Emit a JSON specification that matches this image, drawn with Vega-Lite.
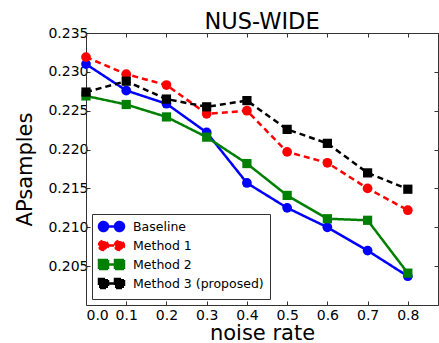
{
  "$schema": "https://vega.github.io/schema/vega-lite/v6.json",
  "autosize": "none",
  "width": 352,
  "height": 272,
  "padding": {"left": 86, "top": 33, "right": 1, "bottom": 38},
  "background": "white",
  "config": {
    "font": "DejaVu Sans",
    "view": {"stroke": null},
    "axis": {"grid": false, "domainColor": "#333", "tickColor": "#333", "labelColor": "#000", "titleColor": "#000", "labelFont": "DejaVu Sans", "titleFont": "DejaVu Sans", "labelFontSize": 14, "titleFontSize": 21, "titleFontWeight": "normal", "tickSize": -4},
    "legend": {"labelFont": "DejaVu Sans", "labelFontSize": 12.5, "labelColor": "#000"}
  },
  "title": {"text": "NUS-WIDE", "fontSize": 22.5, "font": "DejaVu Sans", "fontWeight": "normal", "offset": -7, "color": "#000"},
  "data": {"values": [
    {"x": 0.0, "v": 0.2310, "s": "Baseline", "m": "circle"},
    {"x": 0.1, "v": 0.2276, "s": "Baseline", "m": "circle"},
    {"x": 0.2, "v": 0.2259, "s": "Baseline", "m": "circle"},
    {"x": 0.3, "v": 0.2222, "s": "Baseline", "m": "circle"},
    {"x": 0.4, "v": 0.2157, "s": "Baseline", "m": "circle"},
    {"x": 0.5, "v": 0.2125, "s": "Baseline", "m": "circle"},
    {"x": 0.6, "v": 0.2100, "s": "Baseline", "m": "circle"},
    {"x": 0.7, "v": 0.2070, "s": "Baseline", "m": "circle"},
    {"x": 0.8, "v": 0.2037, "s": "Baseline", "m": "circle"},
    {"x": 0.0, "v": 0.2319, "s": "Method 1", "m": "circle"},
    {"x": 0.1, "v": 0.2297, "s": "Method 1", "m": "circle"},
    {"x": 0.2, "v": 0.2283, "s": "Method 1", "m": "circle"},
    {"x": 0.3, "v": 0.2246, "s": "Method 1", "m": "circle"},
    {"x": 0.4, "v": 0.2250, "s": "Method 1", "m": "circle"},
    {"x": 0.5, "v": 0.2197, "s": "Method 1", "m": "circle"},
    {"x": 0.6, "v": 0.2183, "s": "Method 1", "m": "circle"},
    {"x": 0.7, "v": 0.2150, "s": "Method 1", "m": "circle"},
    {"x": 0.8, "v": 0.2122, "s": "Method 1", "m": "circle"},
    {"x": 0.0, "v": 0.2269, "s": "Method 2", "m": "square"},
    {"x": 0.1, "v": 0.2258, "s": "Method 2", "m": "square"},
    {"x": 0.2, "v": 0.2242, "s": "Method 2", "m": "square"},
    {"x": 0.3, "v": 0.2216, "s": "Method 2", "m": "square"},
    {"x": 0.4, "v": 0.2182, "s": "Method 2", "m": "square"},
    {"x": 0.5, "v": 0.2141, "s": "Method 2", "m": "square"},
    {"x": 0.6, "v": 0.2111, "s": "Method 2", "m": "square"},
    {"x": 0.7, "v": 0.2109, "s": "Method 2", "m": "square"},
    {"x": 0.8, "v": 0.2041, "s": "Method 2", "m": "square"},
    {"x": 0.0, "v": 0.2274, "s": "Method 3 (proposed)", "m": "square"},
    {"x": 0.1, "v": 0.2288, "s": "Method 3 (proposed)", "m": "square"},
    {"x": 0.2, "v": 0.2265, "s": "Method 3 (proposed)", "m": "square"},
    {"x": 0.3, "v": 0.2255, "s": "Method 3 (proposed)", "m": "square"},
    {"x": 0.4, "v": 0.2263, "s": "Method 3 (proposed)", "m": "square"},
    {"x": 0.5, "v": 0.2226, "s": "Method 3 (proposed)", "m": "square"},
    {"x": 0.6, "v": 0.2208, "s": "Method 3 (proposed)", "m": "square"},
    {"x": 0.7, "v": 0.2170, "s": "Method 3 (proposed)", "m": "square"},
    {"x": 0.8, "v": 0.2149, "s": "Method 3 (proposed)", "m": "square"}
  ]},
  "layer": [
    {
      "mark": {"type": "line", "strokeWidth": 2.5},
      "encoding": {
        "x": {"field": "x", "type": "quantitative", "title": "noise rate", "scale": {"domain": [0, 0.875], "nice": false, "zero": false}, "axis": {"values": [0, 0.1, 0.2, 0.3, 0.4, 0.5, 0.6, 0.7, 0.8], "format": ".1f", "labelPadding": 7, "titlePadding": 0}},
        "y": {"field": "v", "type": "quantitative", "title": "APsamples", "scale": {"domain": [0.2, 0.235], "nice": false, "zero": false}, "axis": {"values": [0.205, 0.21, 0.215, 0.22, 0.225, 0.23, 0.235], "format": ".3f", "labelPadding": 2, "titlePadding": 12}},
        "color": {"field": "s", "type": "nominal", "title": null, "scale": {"domain": ["Baseline", "Method 1", "Method 2", "Method 3 (proposed)"], "range": ["#0000ff", "#ff0000", "#008000", "#000000"]}, "legend": {"orient": "bottom-left", "offset": 6, "strokeColor": "#333", "fillColor": "white", "padding": 6, "symbolSize": 100, "symbolOffset": 7, "symbolStrokeWidth": 2.5, "rowPadding": 0, "labelOffset": 15, "encode": {"symbols": {"update": {"fill": {"scale": "color", "field": "value"}, "shape": {"signal": "datum.value == 'Method 2' || datum.value == 'Method 3 (proposed)' ? 'M-2.5,-0.9 h1.8 v1.8 h-1.8 Z M-0.7,0 L0.7,0 M0.7,-0.9 h1.8 v1.8 h-1.8 Z' : 'M-2.5,0 A0.9,0.9 0 1,1 -0.7,0 A0.9,0.9 0 1,1 -2.5,0 Z M-0.7,0 L0.7,0 M0.7,0 A0.9,0.9 0 1,1 2.5,0 A0.9,0.9 0 1,1 0.7,0 Z'"}}}}}},
        "strokeDash": {"field": "s", "type": "nominal", "title": null, "scale": {"domain": ["Baseline", "Method 1", "Method 2", "Method 3 (proposed)"], "range": [[1, 0], [6, 4], [1, 0], [6, 4]]}}
      }
    },
    {
      "transform": [{"filter": "datum.m == 'circle'"}],
      "mark": {"type": "point", "shape": "circle", "filled": true, "size": 95, "opacity": 1},
      "encoding": {
        "x": {"field": "x", "type": "quantitative", "axis": null},
        "y": {"field": "v", "type": "quantitative", "axis": null},
        "color": {"field": "s", "type": "nominal", "title": null}
      }
    },
    {
      "transform": [{"filter": "datum.m == 'square'"}],
      "mark": {"type": "point", "shape": "square", "filled": true, "size": 85, "opacity": 1},
      "encoding": {
        "x": {"field": "x", "type": "quantitative", "axis": null},
        "y": {"field": "v", "type": "quantitative", "axis": null},
        "color": {"field": "s", "type": "nominal", "title": null}
      }
    },
    {
      "mark": {"type": "point", "opacity": 0},
      "encoding": {
        "x": {"field": "x", "type": "quantitative", "title": null, "axis": {"orient": "top", "values": [0, 0.1, 0.2, 0.3, 0.4, 0.5, 0.6, 0.7, 0.8], "labels": false}},
        "y": {"field": "v", "type": "quantitative", "title": null, "axis": {"orient": "right", "values": [0.2, 0.205, 0.21, 0.215, 0.22, 0.225, 0.23, 0.235], "labels": false}}
      }
    }
  ],
  "resolve": {"axis": {"x": "independent", "y": "independent"}}
}
